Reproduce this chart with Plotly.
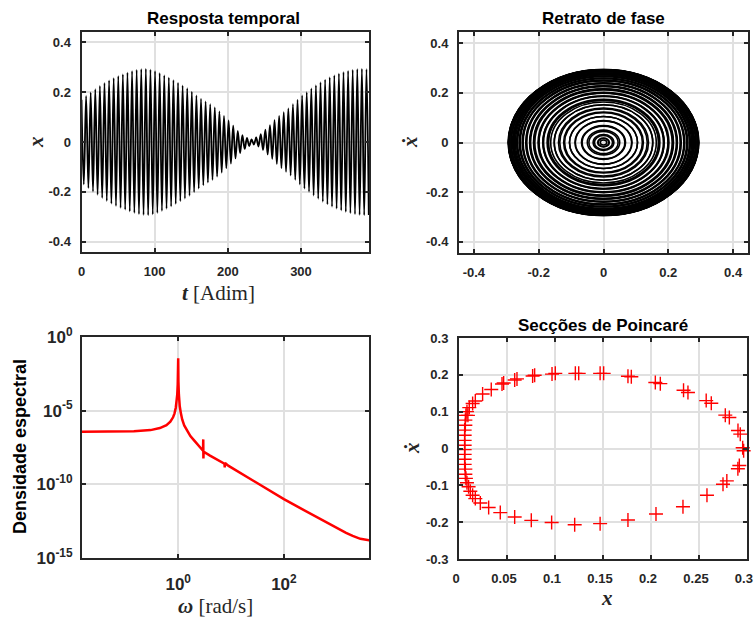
import plotly.graph_objects as go

# ---------------- data ----------------
# Time response: peak amplitude of each oscillation cycle (carrier period ~ 2*pi)
cycle_amp = [0.170, 0.185, 0.199, 0.212, 0.225, 0.237, 0.248, 0.257, 0.265, 0.272,
             0.279, 0.285, 0.290, 0.293, 0.294, 0.291, 0.285, 0.277, 0.268, 0.259,
             0.249, 0.238, 0.227, 0.216, 0.202, 0.187, 0.174, 0.163, 0.152, 0.139,
             0.123, 0.105, 0.087, 0.066, 0.045, 0.028, 0.016, 0.010, 0.018, 0.032,
             0.050, 0.068, 0.088, 0.105, 0.120, 0.135, 0.152, 0.170, 0.187, 0.200,
             0.215, 0.228, 0.240, 0.251, 0.260, 0.268, 0.275, 0.281, 0.286, 0.290,
             0.293, 0.294, 0.293]
half_period = 3.1416

# Spectral density (omega [rad/s], log10 of density)
omega = [0.0151, 0.03, 0.06, 0.145, 0.3, 0.45, 0.6, 0.71, 0.8, 0.85, 0.9, 0.93, 0.96,
         0.98, 0.99, 1.0, 1.005, 1.01, 1.03, 1.05, 1.07, 1.12, 1.19, 1.3, 1.48, 1.7,
         1.98, 2.3, 2.7, 2.95, 2.98, 3.0, 3.03, 4.0, 5.46, 7.5, 7.6, 7.7, 9.0, 10.0,
         20.0, 50.0, 100.0, 200.0, 400.0, 700.0, 1000.0, 1500.0, 2000.0, 2800.0, 4100.0]
psd_log10 = [-6.43, -6.43, -6.42, -6.39, -6.32, -6.18, -5.98, -5.75, -5.45, -5.2, -4.8,
             -4.45, -3.9, -3.2, -2.5, -1.45, -2.3, -3.0, -3.9, -4.4, -4.7, -5.15, -5.6,
             -6.0, -6.4, -6.72, -7.0, -7.3, -7.6, -7.72, -6.95, -8.25, -7.78, -8.05,
             -8.32, -8.6, -8.85, -8.55, -8.75, -8.85, -9.5, -10.35, -11.0, -11.6,
             -12.2, -12.65, -12.95, -13.3, -13.5, -13.7, -13.8]

# Poincare sections
poinc_x = [0.0107, 0.0142, 0.0170, 0.0246, 0.0336, 0.0448, 0.0465, 0.0580, 0.0604, 0.0767,
           0.0788, 0.0969, 0.1003, 0.1212, 0.1247, 0.1470, 0.1507, 0.1760, 0.1795, 0.2045,
           0.2097, 0.2339, 0.2385, 0.2575, 0.2628, 0.2774, 0.2816, 0.2906, 0.2930, 0.2955,
           0.2965, 0.2920, 0.2905, 0.2790, 0.2750, 0.2583, 0.2333, 0.2052, 0.1760, 0.1470,
           0.1205, 0.0965, 0.0753, 0.0580, 0.0430, 0.0309, 0.0222, 0.0170, 0.0142, 0.0118,
           0.0100, 0.0083, 0.0072, 0.0066, 0.0066, 0.0059, 0.0059, 0.0059, 0.0059, 0.0059,
           0.0059, 0.0059, 0.0059, 0.0066, 0.0066, 0.0072, 0.0083, 0.0093]
poinc_xdot = [0.111, 0.122, 0.129, 0.148, 0.160, 0.175, 0.178, 0.186, 0.189, 0.197,
              0.199, 0.202, 0.204, 0.204, 0.204, 0.204, 0.204, 0.196, 0.195, 0.179,
              0.176, 0.158, 0.152, 0.130, 0.123, 0.0905, 0.084, 0.049, 0.039, 0.002,
              -0.006, -0.046, -0.055, -0.088, -0.097, -0.127, -0.158, -0.178, -0.194, -0.204,
              -0.207, -0.201, -0.195, -0.186, -0.174, -0.160, -0.148, -0.136, -0.127, -0.116,
              -0.104, -0.093, -0.081, -0.070, -0.056, -0.043, -0.029, -0.016, -0.003, 0.009,
              0.022, 0.036, 0.050, 0.063, 0.077, 0.090, 0.100, 0.090]

lin_ticks_04 = [-0.4, -0.2, 0, 0.2, 0.4]
lin_ticks_04_text = ["-0.4", "-0.2", "0", "0.2", "0.4"]
t_ticks = [0, 100, 200, 300]
t_ticks_text = ["0", "100", "200", "300"]
w_ticks = [1, 100]
w_ticks_text = ["10<sup>0</sup>", "10<sup>2</sup>"]
s_ticks = [1e0, 1e-5, 1e-10, 1e-15]
s_ticks_text = ["10<sup>0</sup>", "10<sup>-5</sup>", "10<sup>-10</sup>", "10<sup>-15</sup>"]
px_ticks = [0, 0.05, 0.1, 0.15, 0.2, 0.25, 0.2999]
px_ticks_text = ["0", "0.05", "0.1", "0.15", "0.2", "0.25", "0.3"]
py_ticks = [-0.3, -0.2, -0.1, 0, 0.1, 0.2, 0.3]
py_ticks_text = ["-0.3", "-0.2", "-0.1", "0", "0.1", "0.2", "0.3"]

# ---------------- build traces ----------------
n_half = 2 * len(cycle_amp)
t_pk = [j * half_period for j in range(n_half)]
x_pk = [(1 if j % 2 == 0 else -1) * cycle_amp[j // 2] for j in range(n_half)]
psd = [10 ** v for v in psd_log10]

W, H = 754, 617
def fx(p):
    return p / W
def fy(p):
    return 1 - p / H

fig = go.Figure()
fig.add_trace(go.Scatter(x=t_pk, y=x_pk, mode="lines",
                         line=dict(color="black", width=1.8, shape="spline", smoothing=1.0),
                         xaxis="x", yaxis="y", showlegend=False))
fig.add_trace(go.Scatter(x=[0], y=[0], mode="markers", marker=dict(opacity=0),
                         xaxis="x2", yaxis="y2", showlegend=False, hoverinfo="skip"))
fig.add_trace(go.Scatter(x=omega, y=psd, mode="lines",
                         line=dict(color="#ff0000", width=2.5),
                         xaxis="x3", yaxis="y3", showlegend=False))
fig.add_trace(go.Scatter(x=poinc_x, y=poinc_xdot, mode="markers",
                         marker=dict(symbol="cross-thin", size=10, color="#ff0000",
                                     line=dict(color="#ff0000", width=1.4)),
                         xaxis="x4", yaxis="y4", showlegend=False, cliponaxis=False))

shapes = []
for a in cycle_amp:
    shapes.append(dict(type="circle", xref="x2", yref="y2", x0=-a, y0=-a, x1=a, y1=a,
                       line=dict(color="black", width=1.6), layer="above"))

tickfont = dict(family="Liberation Sans", size=13, color="#262626", weight="bold")
def ax(**kw):
    d = dict(showline=True, linecolor="#262626", linewidth=2, mirror="ticks",
             ticks="inside", ticklen=4, tickwidth=1.5, tickcolor="#262626",
             showgrid=True, gridcolor="#e0e0e0", gridwidth=2, zeroline=False,
             tickfont=tickfont, tickmode="array", ticklabelstandoff=6,
             ticklabeloverflow="allow", automargin=False)
    d.update(kw)
    return d

logfont = dict(family="Liberation Sans", size=17, color="#262626", weight="bold")

fig.update_layout(
    width=W, height=H, margin=dict(l=0, r=0, t=0, b=0, autoexpand=False),
    plot_bgcolor="white", paper_bgcolor="white",
    xaxis=ax(domain=[fx(81.5), fx(369)], range=[0, 393], tickvals=t_ticks, ticktext=t_ticks_text, anchor="y"),
    yaxis=ax(domain=[fy(252), fy(32)], range=[-0.442, 0.442], tickvals=lin_ticks_04, ticktext=lin_ticks_04_text, anchor="x"),
    xaxis2=ax(domain=[fx(459), fx(748)], range=[-0.446, 0.446], tickvals=lin_ticks_04, ticktext=lin_ticks_04_text, anchor="y2"),
    yaxis2=ax(domain=[fy(253), fy(32)], range=[-0.445, 0.445], tickvals=lin_ticks_04, ticktext=lin_ticks_04_text, anchor="x2"),
    xaxis3=ax(domain=[fx(82), fx(369)], type="log", range=[-1.82, 3.61], tickvals=w_ticks, ticktext=w_ticks_text,
              anchor="y3", tickfont=logfont, ticklabelstandoff=10),
    yaxis3=ax(domain=[fy(558), fy(337)], type="log", range=[-15, 0], tickvals=s_ticks, ticktext=s_ticks_text,
              anchor="x3", tickfont=logfont, ticklabelstandoff=4),
    xaxis4=ax(domain=[fx(459), fx(747)], range=[0, 0.3], tickvals=px_ticks, ticktext=px_ticks_text, anchor="y4",
              ticklabelshift=-3),
    yaxis4=ax(domain=[fy(559), fy(338)], range=[-0.3, 0.3], tickvals=py_ticks, ticktext=py_ticks_text, anchor="x4"),
    shapes=shapes,
)

title_font = dict(family="Liberation Sans", size=17, color="black", weight="bold")
serif = dict(family="Liberation Serif", size=21, color="#262626")
ann = [
    dict(text="Resposta temporal", x=fx(223), y=fy(18), font=title_font),
    dict(text="Retrato de fase", x=fx(603), y=fy(18), font=title_font),
    dict(text="Secções de Poincaré", x=fx(603), y=fy(325), font=title_font),
    dict(text="<b><i>t</i></b> [Adim]", x=fx(218), y=fy(293), font=serif),
    dict(text="<b><i>x</i></b>", x=fx(36), y=fy(142), font=serif, textangle=-90),
    dict(text="<b><i>ẋ</i></b>", x=fx(410), y=fy(142), font=serif, textangle=-90),
    dict(text="<b><i>ω</i></b> [rad/s]", x=fx(215), y=fy(606), font=serif),
    dict(text="Densidade espectral", x=fx(20), y=fy(447),
         font=dict(family="Liberation Sans", size=18, color="black", weight="bold"), textangle=-90),
    dict(text="<b><i>x</i></b>", x=fx(607), y=fy(598), font=serif),
    dict(text="<b><i>ẋ</i></b>", x=fx(412), y=fy(448), font=serif, textangle=-90),
]
for a in ann:
    a.update(xref="paper", yref="paper", showarrow=False, xanchor="center", yanchor="middle")
fig.update_layout(annotations=ann)

fig.write_html("out.html")
